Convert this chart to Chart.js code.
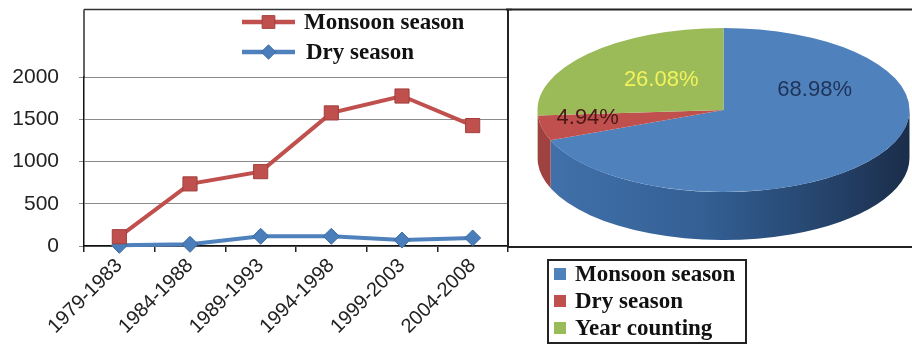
<!DOCTYPE html>
<html>
<head>
<meta charset="utf-8">
<script src="https://cdn.jsdelivr.net/npm/chart.js@4.4.1/dist/chart.umd.min.js"></script>
<style>
  html, body { margin: 0; padding: 0; background: #fff; overflow: hidden; }
  #wrap { position: relative; width: 912px; height: 356px; }
  #lineChart { position: absolute; left: 0; top: 0; }
  #pieChart { position: absolute; left: 506px; top: 0; }
</style>
</head>
<body>
<div id="wrap">
  <canvas id="lineChart" width="512" height="356"></canvas>
  <canvas id="pieChart" width="406" height="356"></canvas>
</div>
<script>
// data
const periods = ['1979-1983', '1984-1988', '1989-1993', '1994-1998', '1999-2003', '2004-2008'];
const monsoonRain = [110, 735, 880, 1575, 1775, 1425];
const dryRain = [8, 20, 115, 115, 70, 95];
const yTicks = [0, 500, 1000, 1500, 2000];

const pieLabels = ['Monsoon season', 'Dry season', 'Year counting'];
const pieShares = [68.98, 4.94, 26.08];

const RED = '#C0504D';
const BLUE = '#4F81BD';
const GREEN = '#9BBB59';
const LEGEND_FONT = 'bold 23px "Liberation Serif"';

// ---------- left: line chart ----------
const lineLegend = {
  id: 'lineLegend',
  afterDraw(chart) {
    const ctx = chart.ctx;
    ctx.save();
    // frame around the plot
    ctx.strokeStyle = '#333';
    ctx.lineWidth = 1.5;
    ctx.beginPath();
    ctx.moveTo(84, 9.5);
    ctx.lineTo(512, 9.5);
    ctx.moveTo(84, 9.5);
    ctx.lineTo(84, 78);
    ctx.stroke();

    chart.data.datasets.forEach((ds, i) => {
      const y = 22 + i * 30;
      ctx.strokeStyle = ds.borderColor;
      ctx.lineWidth = 4.5;
      ctx.beginPath();
      ctx.moveTo(242, y);
      ctx.lineTo(295, y);
      ctx.stroke();
      ctx.fillStyle = ds.pointBackgroundColor;
      ctx.strokeStyle = ds.pointBorderColor;
      ctx.lineWidth = 1;
      Chart.helpers.drawPoint(ctx, { pointStyle: ds.pointStyle, radius: ds.pointRadius * 0.9, rotation: 0, borderWidth: 1 }, 268.5, y);
      ctx.fillStyle = '#111';
      ctx.font = LEGEND_FONT;
      ctx.textBaseline = 'middle';
      ctx.fillText(ds.label, 304 + i * 2, y + 1);
    });
    ctx.restore();
  }
};

new Chart(document.getElementById('lineChart'), {
  type: 'line',
  data: {
    labels: periods,
    datasets: [
      {
        label: 'Monsoon season',
        data: monsoonRain,
        borderColor: RED,
        borderWidth: 4,
        pointStyle: 'rect',
        pointRadius: 10,
        pointBackgroundColor: RED,
        pointBorderColor: '#A23F3C',
        pointBorderWidth: 1,
        clip: false
      },
      {
        label: 'Dry season',
        data: dryRain,
        borderColor: BLUE,
        borderWidth: 4,
        pointStyle: 'rectRot',
        pointRadius: 8,
        pointBackgroundColor: '#4A7EBB',
        pointBorderColor: '#3B6A9F',
        pointBorderWidth: 1,
        clip: false
      }
    ]
  },
  options: {
    responsive: false,
    animation: false,
    layout: { autoPadding: false, padding: { top: 77, right: 4, left: 0, bottom: 0 } },
    plugins: { legend: { display: false }, tooltip: { enabled: false } },
    scales: {
      x: {
        offset: true,
        grid: { offset: true, drawOnChartArea: false, tickLength: 6, color: '#222', lineWidth: 1.5 },
        border: { color: '#111', width: 1.5 },
        ticks: { maxRotation: 45, minRotation: 45, padding: 2, color: '#222', font: { family: 'Liberation Sans', size: 20 } },
        afterFit(scale) {
          scale.height = 110;
          scale.paddingLeft = 0;
          scale.paddingRight = 0;
        }
      },
      y: {
        min: 0,
        max: 2000,
        afterBuildTicks(scale) { scale.ticks = yTicks.map(v => ({ value: v })); },
        grid: { color: '#8a8a8a', lineWidth: 1, tickLength: 5 },
        border: { color: '#111', width: 1.5 },
        ticks: {
          padding: 20,
          color: '#222',
          font: { family: 'Liberation Sans', size: 21 },
          callback: v => String(v)
        },
        afterFit(scale) { scale.width = 84; }
      }
    }
  },
  plugins: [lineLegend]
});

// ---------- right: 3D-looking pie ----------
const OFF = 506;          // page x of the pie canvas
const PIE_CY = 110;       // centre of the top face
const FLAT = 82 / 186;    // vertical squash of the top face
const DEPTH = 48;         // thickness of the pie
const sideStops = [
  [[0, '#4272AC'], [0.45, '#335F94'], [0.75, '#26466F'], [1, '#1B2D4A']],
  [[0, '#A04340'], [1, '#7A302E']],
  [[0, '#809C48'], [1, '#6A833A']]
];
const labelColors = ['#1F3358', '#4A1616', '#F2F25C'];
const labelSpots = [[0.49, -0.24], [-0.73, 0.10], [-0.335, -0.366]];

const pie3d = {
  id: 'pie3d',
  beforeDatasetsDraw(chart) {
    const ctx = chart.ctx;
    const arcs = chart.getDatasetMeta(0).data;
    const cx = arcs[0].x, cy0 = arcs[0].y, r = arcs[0].outerRadius;
    const ry = r * FLAT;
    arcs.forEach((arc, i) => {
      const a = Math.max(arc.startAngle, 0);
      const b = Math.min(arc.endAngle, Math.PI);
      if (b <= a) return;
      const g = ctx.createLinearGradient(cx - r, 0, cx + r, 0);
      sideStops[i].forEach(([o, c]) => g.addColorStop(o, c));
      ctx.beginPath();
      ctx.ellipse(cx, PIE_CY, r, ry, 0, a, b);
      ctx.ellipse(cx, PIE_CY + DEPTH, r, ry, 0, b, a, true);
      ctx.closePath();
      ctx.fillStyle = g;
      ctx.fill();
    });
    ctx.save();
    ctx.translate(cx, PIE_CY);
    ctx.scale(1, FLAT);
    ctx.translate(-cx, -cy0);
  },
  afterDatasetsDraw(chart) {
    const ctx = chart.ctx;
    ctx.restore();
    const arcs = chart.getDatasetMeta(0).data;
    const cx = arcs[0].x, r = arcs[0].outerRadius;
    const ry = r * FLAT;
    ctx.save();
    ctx.font = '22px "Liberation Sans"';
    ctx.textAlign = 'center';
    ctx.textBaseline = 'middle';
    chart.data.datasets[0].data.forEach((v, i) => {
      ctx.fillStyle = labelColors[i];
      ctx.fillText(v.toFixed(2) + '%', cx + labelSpots[i][0] * r, PIE_CY + labelSpots[i][1] * ry);
    });
    ctx.restore();
  },
  afterDraw(chart) {
    const ctx = chart.ctx;
    ctx.save();
    // frame
    ctx.strokeStyle = '#222';
    ctx.lineWidth = 2;
    ctx.beginPath();
    ctx.moveTo(0, 9.5);
    ctx.lineTo(406, 9.5);
    ctx.moveTo(508 - OFF, 9);
    ctx.lineTo(508 - OFF, 248);
    ctx.moveTo(508 - OFF, 247);
    ctx.lineTo(406, 247);
    ctx.stroke();
    // legend box
    ctx.lineWidth = 2;
    ctx.strokeStyle = '#222';
    ctx.strokeRect(548 - OFF, 260, 198, 83);
    const ds = chart.data.datasets[0];
    ctx.font = LEGEND_FONT;
    ctx.textBaseline = 'middle';
    chart.data.labels.forEach((lab, i) => {
      const y = 274 + i * 27;
      ctx.fillStyle = ds.backgroundColor[i];
      ctx.fillRect(554 - OFF, y - 6, 12, 12);
      ctx.fillStyle = '#111';
      ctx.fillText(lab, 575 - OFF, y + 1);
    });
    ctx.restore();
  }
};

new Chart(document.getElementById('pieChart'), {
  type: 'pie',
  data: {
    labels: pieLabels,
    datasets: [{
      data: pieShares,
      backgroundColor: [BLUE, RED, GREEN],
      borderWidth: 0,
      radius: 186
    }]
  },
  options: {
    responsive: false,
    animation: false,
    layout: { padding: { left: 29, right: 0, top: 0, bottom: 0 } },
    plugins: { legend: { display: false }, tooltip: { enabled: false } }
  },
  plugins: [pie3d]
});
</script>
</body>
</html>
